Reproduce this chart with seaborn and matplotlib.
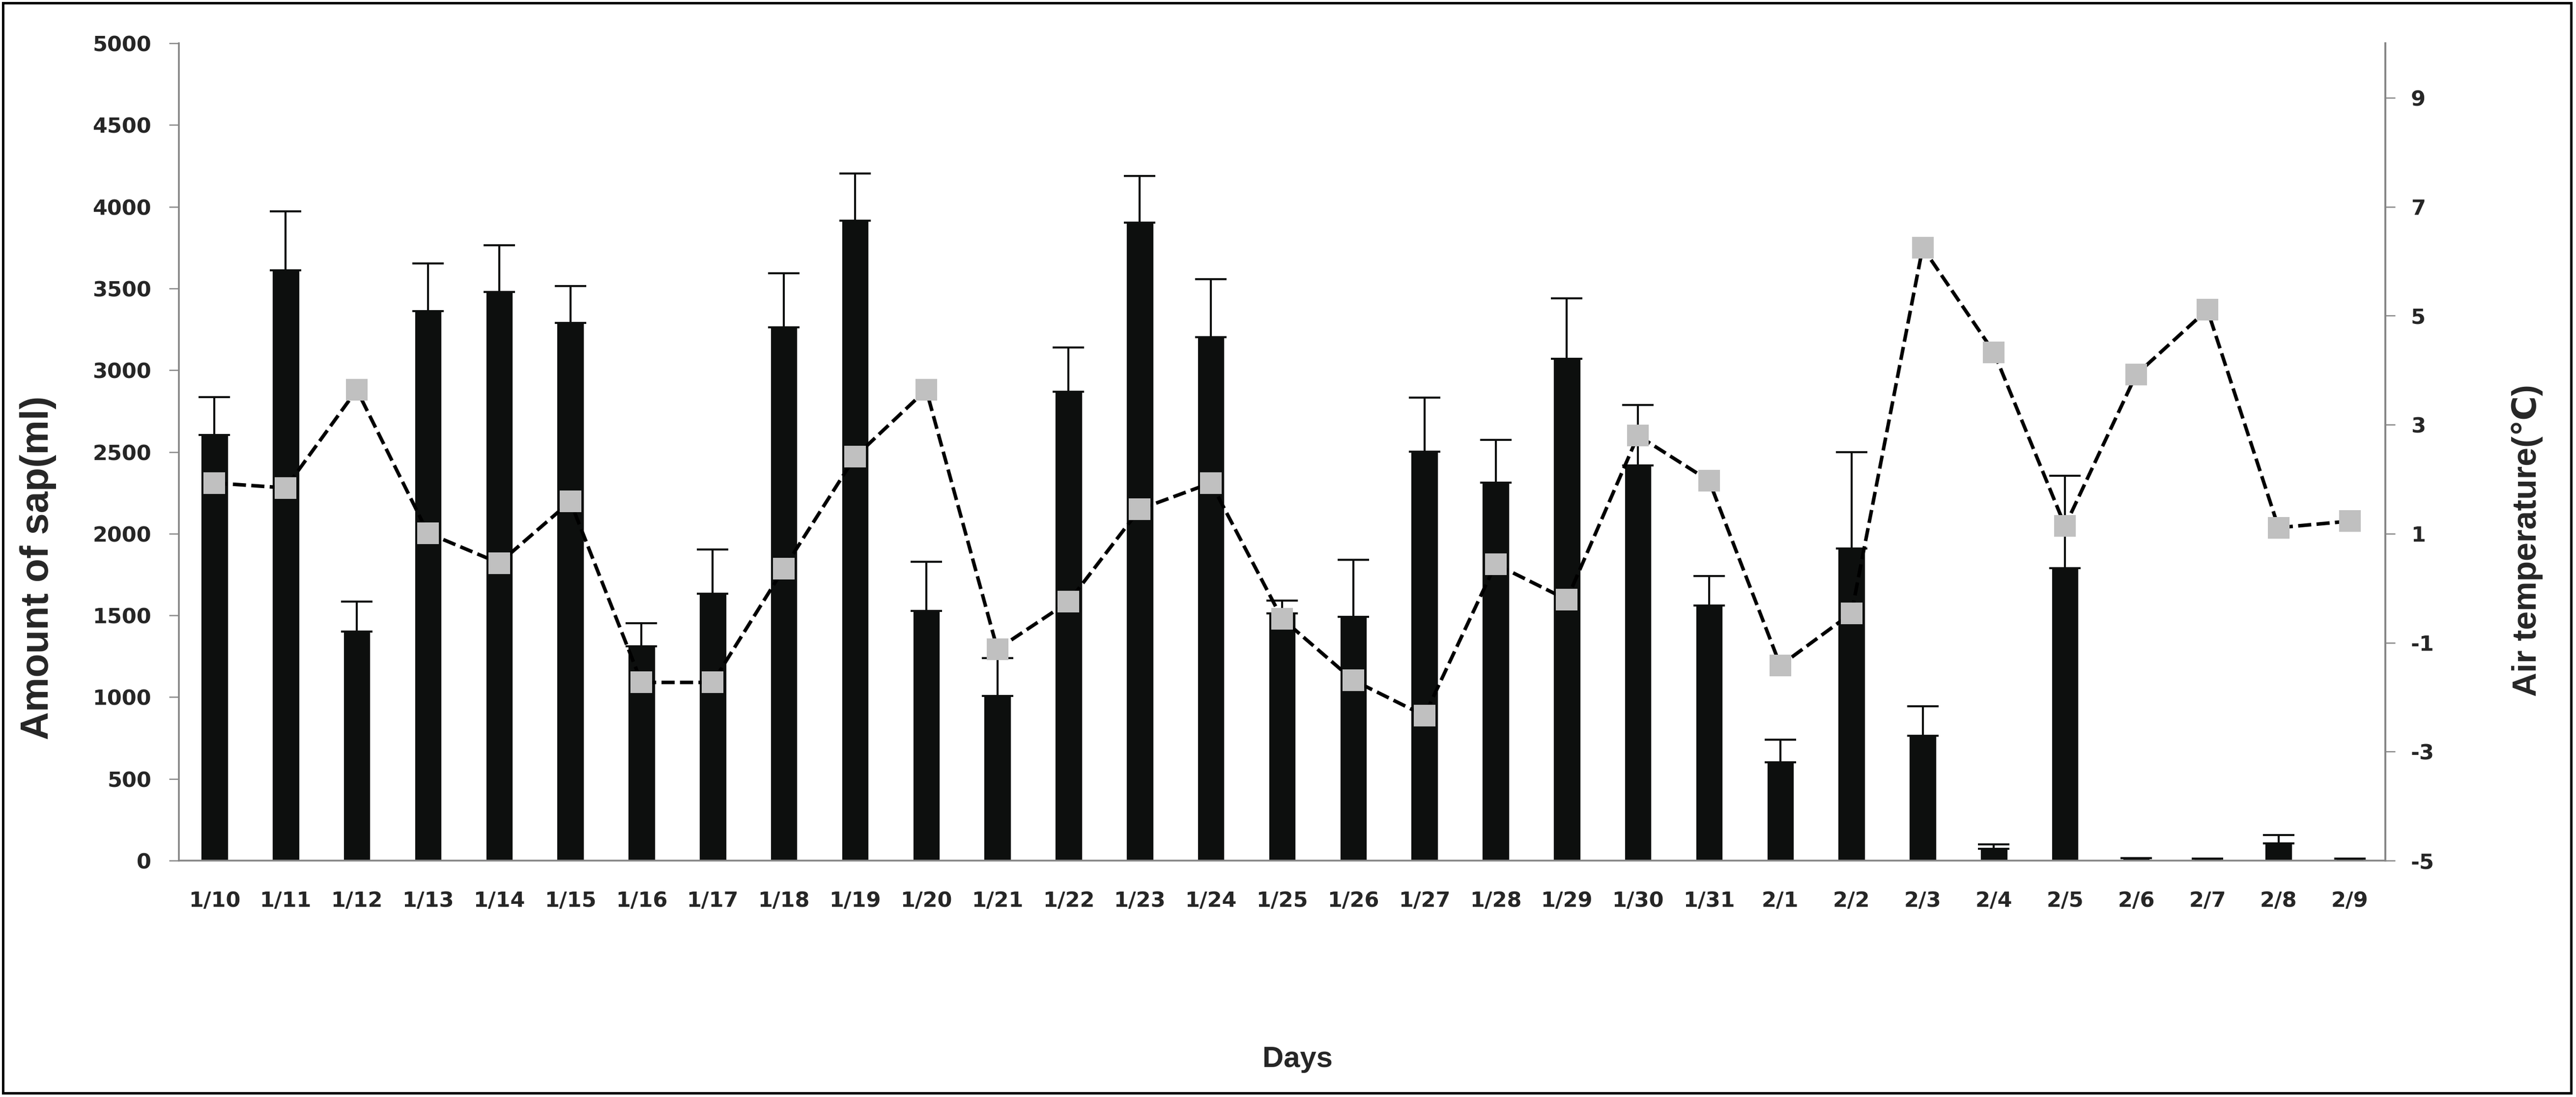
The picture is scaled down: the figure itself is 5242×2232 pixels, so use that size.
import numpy as np
import pandas as pd
import matplotlib
matplotlib.use("Agg")
import matplotlib.pyplot as plt
from matplotlib.patches import Rectangle
import seaborn as sns

# data
days = ["1/10", "1/11", "1/12", "1/13", "1/14", "1/15", "1/16", "1/17", "1/18", "1/19",
        "1/20", "1/21", "1/22", "1/23", "1/24", "1/25", "1/26", "1/27", "1/28", "1/29",
        "1/30", "1/31", "2/1", "2/2", "2/3", "2/4", "2/5", "2/6", "2/7", "2/8", "2/9"]
sap = [2605, 3612, 1400, 3362, 3478, 3290, 1312, 1632, 3262, 3914,
       1528, 1008, 2868, 3902, 3202, 1512, 1490, 2502, 2313, 3070,
       2416, 1560, 600, 1908, 765, 72, 1790, 14, 12, 104, 12]
sap_err = [230, 360, 185, 290, 285, 225, 140, 270, 330, 290,
           300, 230, 270, 285, 355, 80, 350, 330, 260, 370,
           370, 180, 140, 590, 180, 26, 565, 0, 0, 53, 0]
air_temp = [1.93, 1.84, 3.64, 1.01, 0.46, 1.59, -1.73, -1.73, 0.36, 2.41,
            3.64, -1.12, -0.25, 1.45, 1.93, -0.56, -1.69, -2.34, 0.44, -0.21,
            2.80, 1.97, -1.42, -0.46, 6.25, 4.33, 1.14, 3.92, 5.11, 1.11, 1.23]
sap_ticks = list(range(0, 5001, 500))
temp_ticks = list(range(-5, 10, 2))

sns.set_style("white")
plt.rcParams["font.family"] = ["DejaVu Sans"]
plt.rcParams["axes.unicode_minus"] = False

axis_grey = "#868686"
bar_color = "#0d0f0e"
label_font = ["Liberation Sans", "DejaVu Sans"]

data = pd.DataFrame({"Days": days, "sap": sap, "err": sap_err, "temp": air_temp})
pos = np.arange(len(days))

fig = plt.figure(figsize=(26.21, 11.16), dpi=200)
ax = fig.add_axes([0.06944, 0.2155, 0.85654, 0.74507])

sns.barplot(data=data, x="Days", y="sap", color=bar_color, saturation=1,
            width=0.39, errorbar=None, ax=ax, zorder=2)
ax.errorbar(pos, data["sap"], yerr=[np.zeros(len(pos)), data["err"]], fmt="none",
            ecolor=bar_color, elinewidth=1.5, capsize=11.5, capthick=1.5, zorder=3)

ax.set_xlim(-0.5, len(days) - 0.5)
ax.set_ylim(0, 5000)
ax.set_yticks(sap_ticks)
ax.set_xticks(pos, labels=days)
ax.set_xticks(np.arange(-0.5, len(days), 1), minor=True)

for side in ["top", "right"]:
    ax.spines[side].set_visible(False)
for side in ["left", "bottom"]:
    ax.spines[side].set_color(axis_grey)
    ax.spines[side].set_linewidth(1.3)

ax.tick_params(axis="x", which="major", length=0, pad=22, labelsize=15.5)
ax.tick_params(axis="x", which="minor", length=9, width=0.9, color=axis_grey, direction="out")
ax.tick_params(axis="y", length=7.2, width=0.9, color=axis_grey, pad=13, labelsize=15.5)
for lab in ax.get_xticklabels() + ax.get_yticklabels():
    lab.set_fontweight("bold")

ax.set_ylabel("Amount of sap(ml)", fontsize=28.5, fontweight="bold", family=label_font)
ax.yaxis.set_label_coords(-0.0555, 0.358)
ax.set_xlabel("Days", fontsize=21.5, fontweight="bold", family=label_font)
ax.xaxis.set_label_coords(0.507, -0.2267)

# air temperature on the right axis
ax2 = ax.twinx()
sns.lineplot(x=pos, y=air_temp, ax=ax2, color="black", linewidth=2.6,
             linestyle=(0, (3.7, 1.5)), marker="s", markersize=15,
             markerfacecolor="#c0c0c0", markeredgecolor="#c0c0c0", zorder=4)
ax2.set_ylim(-5, 10)
ax2.set_yticks(temp_ticks)
for side in ["top", "left", "bottom"]:
    ax2.spines[side].set_visible(False)
ax2.spines["right"].set_color(axis_grey)
ax2.spines["right"].set_linewidth(1.4)
ax2.tick_params(axis="y", length=7.2, width=0.9, color=axis_grey, pad=11.5, labelsize=15.5)
for lab in ax2.get_yticklabels():
    lab.set_fontweight("bold")
ax2.set_ylabel("Air temperature(\u2103)", fontsize=24.5, fontweight="bold", family=label_font)
ax2.yaxis.set_label_coords(1.057, 0.3915)

# frame round the whole picture
fig.patches.append(Rectangle((0.0011, 0.0036), 0.9969, 0.9937, transform=fig.transFigure,
                             fill=False, linewidth=1.8, edgecolor="black"))

fig.savefig("out.png", dpi=200)
